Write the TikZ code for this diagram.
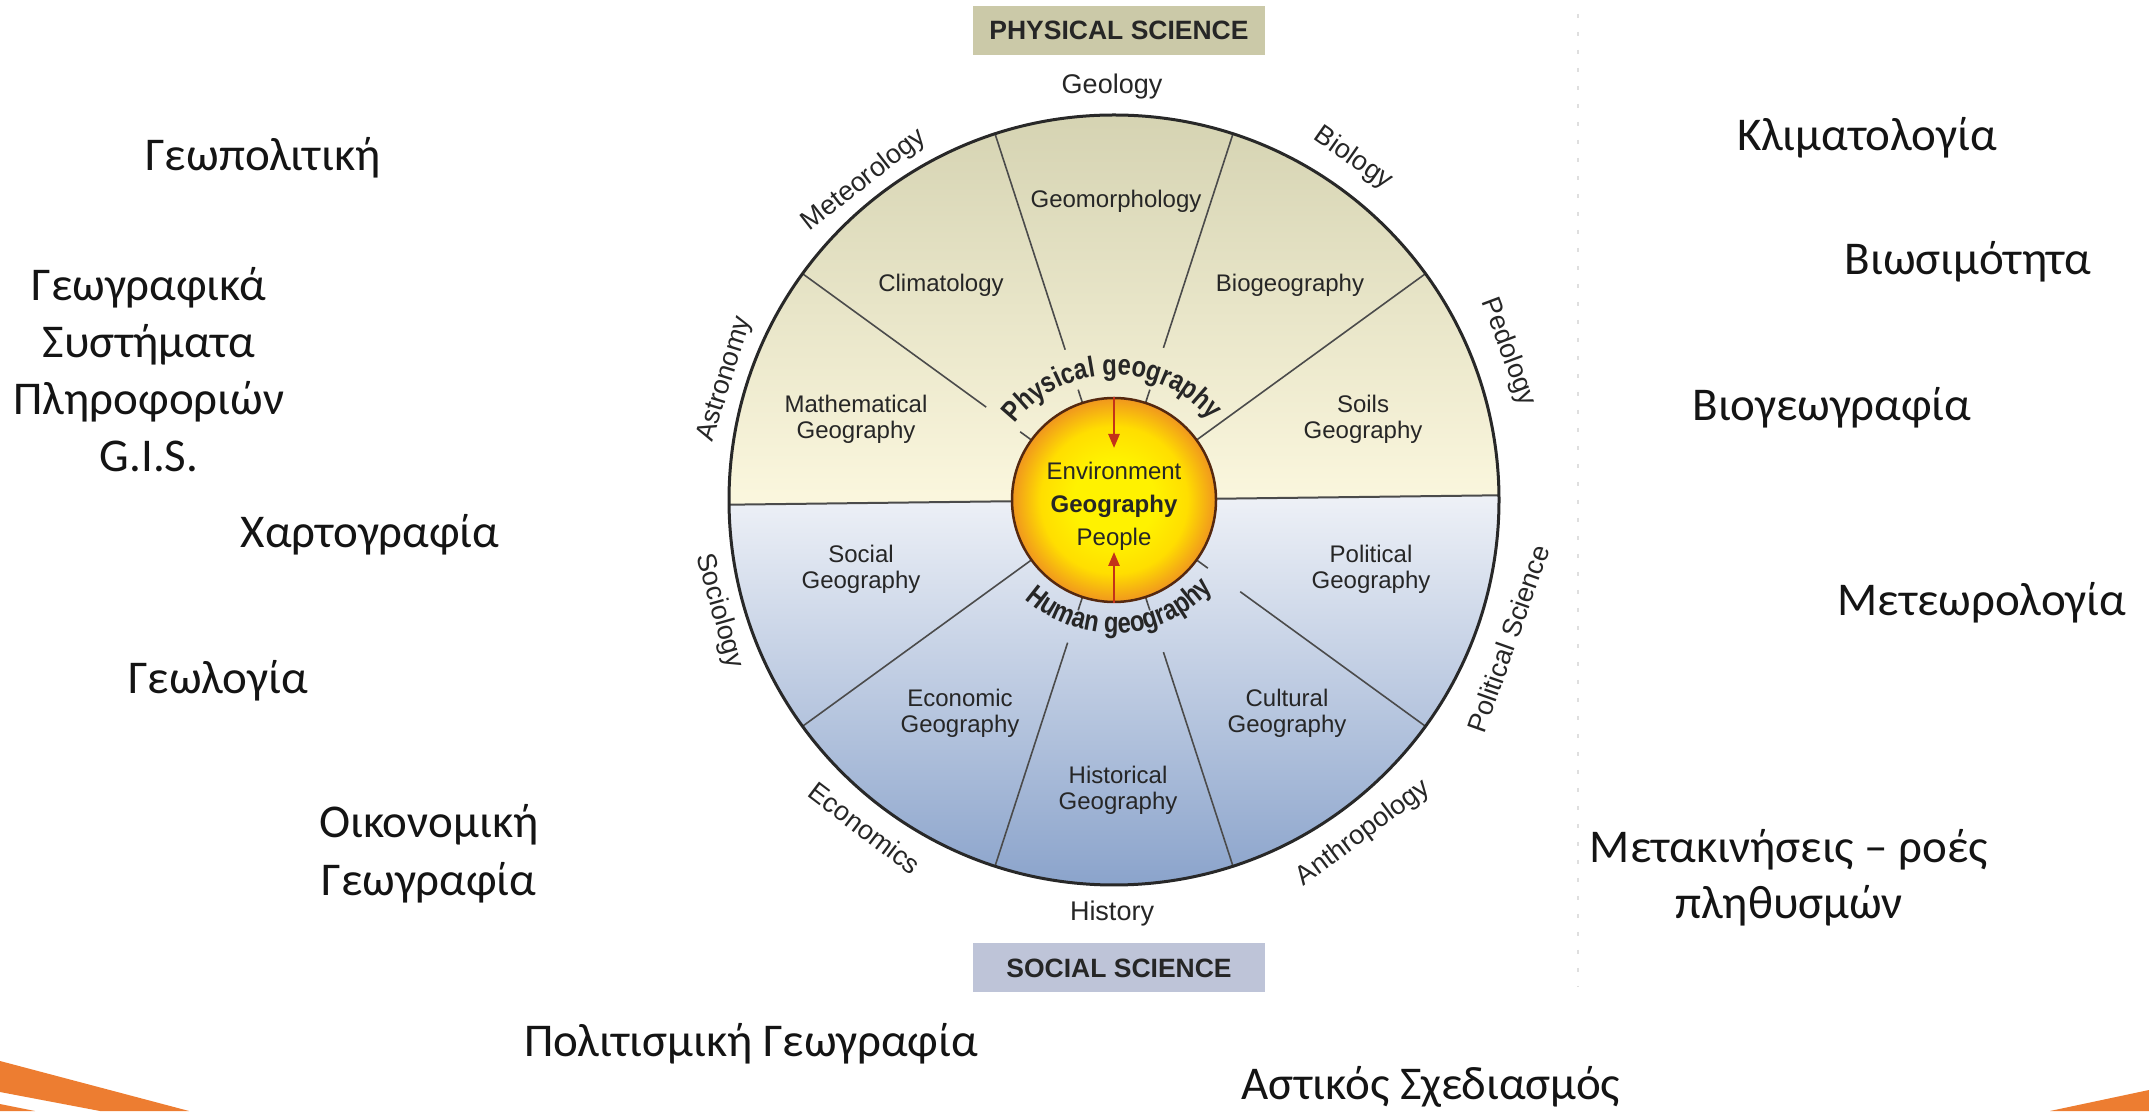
\documentclass[tikz,border=0pt]{standalone}
\usepackage{fontspec}
\setmainfont{Liberation Sans}
\newfontfamily\greekfont{Carlito}
\newfontfamily\ringfam[FakeStretch=0.82]{Liberation Sans}
\usetikzlibrary{arrows.meta,decorations.text}
\definecolor{physbox}{RGB}{203,201,168}
\definecolor{socbox}{RGB}{190,196,216}
\definecolor{uptop}{RGB}{213,211,178}
\definecolor{upbot}{RGB}{251,247,222}
\definecolor{lowtop}{RGB}{238,241,247}
\definecolor{lowbot}{RGB}{138,163,203}
\definecolor{sunin}{RGB}{255,242,0}
\definecolor{sunmid}{RGB}{255,222,0}
\definecolor{sunout}{RGB}{240,150,30}
\definecolor{hubedge}{RGB}{85,40,15}
\definecolor{rimc}{RGB}{40,40,40}
\definecolor{spokec}{RGB}{75,75,75}
\definecolor{labelc}{RGB}{38,38,38}
\definecolor{arrowred}{RGB}{195,50,25}
\definecolor{slideorange}{RGB}{237,125,49}
\definecolor{greektext}{RGB}{20,20,20}
\pgfdeclareradialshading{sunshade}{\pgfpoint{0bp}{0bp}}{color(0bp)=(sunin); color(10bp)=(sunin); color(18bp)=(sunmid); color(25bp)=(sunout); color(50bp)=(sunout)}
\newcommand\ringfont{\ringfam\fontsize{29}{32}\selectfont\bfseries}
\begin{document}
\begin{tikzpicture}[x=1pt,y=1pt,
  outlbl/.style={font=\fontsize{27}{30}\selectfont, text=labelc, inner sep=0},
  inlbl/.style={font=\fontsize{24}{26}\selectfont, text=labelc, align=center, inner sep=0},
  greek/.style={font=\greekfont\fontsize{47}{57}\selectfont, text=greektext, align=center, inner sep=0},
  scibox/.style={minimum width=292, minimum height=49, inner sep=0, font=\fontsize{26.5}{30}\selectfont\bfseries, text=labelc},
  spokeline/.style={draw=spokec, line width=1.6},
  divline/.style={draw=spokec, line width=2},
  hub/.style={circle, minimum size=204, inner sep=0, shading=sunshade, draw=hubedge, line width=2.5},
  hubtext/.style={align=center, font=\fontsize{24}{33}\selectfont, text=labelc, inner sep=0},
  arrowline/.style={draw=arrowred, line width=2.5, -{Triangle[width=11pt,length=14pt]}}
]
\useasboundingbox (0,0) rectangle (2149,1111);
\fill[white] (0,0) rectangle (2149,1111);

% slide decoration
\fill[slideorange] (0,50) -- (189,0) -- (100,0) -- (0,19) -- cycle;
\fill[slideorange] (0,7) -- (35,0) -- (0,0) -- cycle;
\fill[slideorange] (2050,0) -- (2149,21) -- (2149,0) -- cycle;
\draw[gray!25, line width=2, dash pattern=on 4pt off 14pt] (1578,1097) -- (1578,124);

% wheel
\begin{scope}[shift={(1114,611)}]
  \fill[top color=uptop,bottom color=upbot] (0.7:385) arc[start angle=0.7,end angle=180.7,radius=385] -- cycle;
  \fill[top color=lowtop,bottom color=lowbot] (180.7:385) arc[start angle=180.7,end angle=360.7,radius=385] -- cycle;
  \foreach \a/\r in {144/158,108/158,72/160,-108/150,-72/160,-36/156}{
    \draw[spokeline] (\a:\r) -- (\a:385);
    \draw[spokeline] (\a:102) -- (\a:116);
  }
  \draw[spokeline] (36:102) -- (36:385);
  \draw[spokeline] (-144:102) -- (-144:385);
  \draw[divline] (180.7:385) -- (0.7:385);
  \draw[draw=rimc, line width=3] (0,0) circle[radius=385];
\end{scope}

\node[hub] (hub) at (1114,611) {};
\node[hubtext] (hubtxt) at (1114,605) {Environment\\\textbf{Geography}\\People};
\coordinate (atip) at (1114,663);
\coordinate (btip) at (1114,559);
\draw[arrowline] (hub.north) -- (atip);
\draw[arrowline] (hub.south) -- (btip);

\begin{scope}[shift={(1114,611)}]
  \path[decorate, decoration={text along path, text={|\ringfont|Physical geography}, text align=center, text color=labelc}]
    (181:125) arc[start angle=181, end angle=1, radius=125];
  \path[decorate, decoration={text along path, text={|\ringfont|Human geography}, text align=center, text color=labelc}]
    (-177:133) arc[start angle=-177, end angle=3, radius=133];
  \node[outlbl, rotate=38] (meteo) at (128:406) {Meteorology};
  \node[outlbl, rotate=-35] (bio) at (55:417) {Biology};
  \node[outlbl, rotate=72.7] (astro) at (162.7:407) {Astronomy};
  \node[outlbl, rotate=-69.4] (pedo) at (20.6:421) {Pedology};
  \node[outlbl, rotate=-74.3] (socio) at (-164.3:410) {Sociology};
  \node[outlbl, rotate=-37.2] (econ) at (-127.2:412) {Economics};
  \node[outlbl, rotate=36.8] (anthro) at (-53.2:416) {Anthropology};
  \node[outlbl, rotate=70.6] (polsci) at (-19.4:418) {Political Science};
\end{scope}

\node[outlbl] (geol) at (1112,1024) {Geology};
\node[outlbl] (hist) at (1112,197) {History};
\node[scibox, fill=physbox] (phys) at (1119,1080.5) {PHYSICAL SCIENCE};
\node[scibox, fill=socbox] (soc) at (1119,143) {SOCIAL SCIENCE};

\node[inlbl] (geomorph) at (1116,910) {Geomorphology};
\node[inlbl] (clim) at (941,826) {Climatology};
\node[inlbl] (biogeo) at (1290,826) {Biogeography};
\node[inlbl] (math) at (856,692) {Mathematical\\Geography};
\node[inlbl] (soils) at (1363,692) {Soils\\Geography};
\node[inlbl] (social) at (861,542) {Social\\Geography};
\node[inlbl] (polit) at (1371,542) {Political\\Geography};
\node[inlbl] (econg) at (960,398) {Economic\\Geography};
\node[inlbl] (cult) at (1287,398) {Cultural\\Geography};
\node[inlbl] (histg) at (1118,321) {Historical\\Geography};

% Greek labels
\node[greek] (gr1) at (263,953) {Γεωπολιτική};
\node[greek] (gr2) at (149,741) {Γεωγραφικά\\Συστήματα\\Πληροφοριών\\G.I.S.};
\node[greek] (gr3) at (370,576) {Χαρτογραφία};
\node[greek] (gr4) at (218,430) {Γεωλογία};
\node[greek, font=\greekfont\fontsize{47}{58}\selectfont] (gr5) at (429,257) {Οικονομική\\Γεωγραφία};
\node[greek] (gr6) at (751,67) {Πολιτισμική Γεωγραφία};
\node[greek] (gr7) at (1867,973) {Κλιματολογία};
\node[greek] (gr8) at (1968,849) {Βιωσιμότητα};
\node[greek] (gr9) at (1832,703) {Βιογεωγραφία};
\node[greek] (gr10) at (1982,508) {Μετεωρολογία};
\node[greek, font=\greekfont\fontsize{47}{56}\selectfont] (gr11) at (1789,233) {Μετακινήσεις – ροές\\πληθυσμών};
\node[greek] (gr12) at (1431,24) {Αστικός Σχεδιασμός};
\end{tikzpicture}
\end{document}
